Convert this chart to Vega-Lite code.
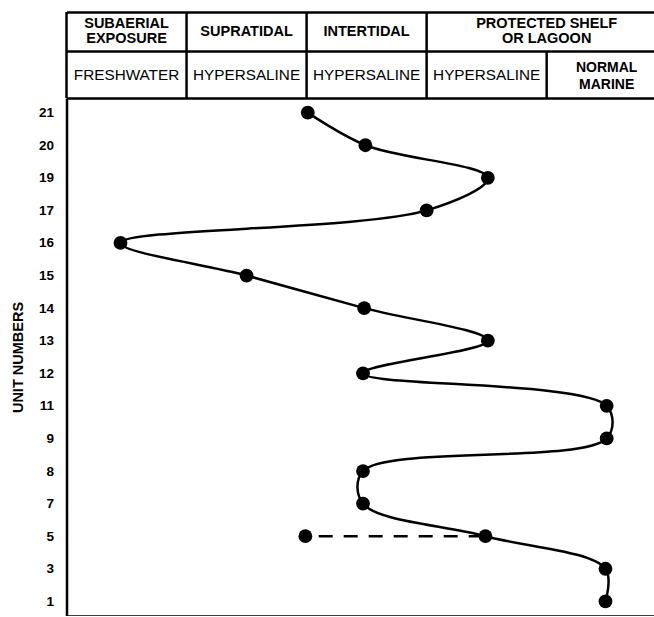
{
  "$schema": "https://vega.github.io/schema/vega-lite/v6.json",
  "padding": {"left": 9.5, "top": 10, "right": 0, "bottom": 0},
  "spacing": 0,
  "bounds": "flush",
  "config": {
    "view": {"stroke": null},
    "font": "Liberation Sans",
    "text": {"font": "Liberation Sans", "color": "black"},
    "axis": {
      "grid": false,
      "domainColor": "black",
      "domainWidth": 2.5,
      "ticks": false,
      "labelColor": "black",
      "titleColor": "black",
      "labelFont": "Liberation Sans",
      "titleFont": "Liberation Sans"
    }
  },
  "datasets": {
    "environments": [
      {"label": "SUBAERIAL\nEXPOSURE", "start": 0, "end": 1},
      {"label": "SUPRATIDAL", "start": 1, "end": 2},
      {"label": "INTERTIDAL", "start": 2, "end": 3},
      {"label": "PROTECTED SHELF\nOR LAGOON", "start": 3, "end": 5}
    ],
    "salinity": [
      {"label": "FRESHWATER", "start": 0, "end": 1},
      {"label": "HYPERSALINE", "start": 1, "end": 2},
      {"label": "HYPERSALINE", "start": 2, "end": 3},
      {"label": "HYPERSALINE", "start": 3, "end": 4},
      {"label": "NORMAL\nMARINE", "start": 4, "end": 5}
    ],
    "path": [
      {"unit": 21, "position": 2.01},
      {"unit": 20, "position": 2.49},
      {"unit": 19, "position": 3.51},
      {"unit": 17, "position": 3.0},
      {"unit": 16, "position": 0.45},
      {"unit": 15, "position": 1.5},
      {"unit": 14, "position": 2.48},
      {"unit": 13, "position": 3.51},
      {"unit": 12, "position": 2.47},
      {"unit": 11, "position": 4.5},
      {"unit": 9, "position": 4.5},
      {"unit": 8, "position": 2.47},
      {"unit": 7, "position": 2.47},
      {"unit": 5, "position": 3.49},
      {"unit": 3, "position": 4.49},
      {"unit": 1, "position": 4.49}
    ],
    "alternative": [
      {"unit": 5, "position": 1.99, "end": 3.49}
    ]
  },
  "vconcat": [
    {
      "width": 587,
      "height": 39,
      "data": {"name": "environments"},
      "transform": [{"calculate": "(datum.start + datum.end) / 2", "as": "mid"}],
      "layer": [
        {
          "mark": {"type": "rule", "color": "black", "strokeWidth": 2.5},
          "encoding": {
            "x": {"field": "start", "type": "quantitative", "scale": {"domain": [0, 4.89], "nice": false, "zero": false}, "axis": {"orient": "top", "labels": false, "title": null}}
          }
        },
        {
          "transform": [{"filter": "datum.start == 1 || datum.start == 2"}],
          "mark": {"type": "text", "fontWeight": "bold", "fontSize": 14.5},
          "encoding": {
            "x": {"field": "mid", "type": "quantitative", "axis": {"orient": "top", "labels": false, "title": null}},
            "text": {"field": "label"}
          }
        },
        {
          "transform": [{"filter": "datum.start == 0 || datum.start == 3"}],
          "mark": {"type": "text", "fontWeight": "bold", "fontSize": 14.5, "lineHeight": 15, "lineBreak": "\n", "dy": -7.5},
          "encoding": {
            "x": {"field": "mid", "type": "quantitative", "axis": {"orient": "top", "labels": false, "title": null}},
            "text": {"field": "label"}
          }
        }
      ]
    },
    {
      "width": 587,
      "height": 47,
      "data": {"name": "salinity"},
      "transform": [{"calculate": "(datum.start + datum.end) / 2", "as": "mid"}],
      "layer": [
        {
          "mark": {"type": "rule", "color": "black", "strokeWidth": 2.5},
          "encoding": {
            "x": {"field": "start", "type": "quantitative", "scale": {"domain": [0, 4.89], "nice": false, "zero": false}, "axis": {"orient": "top", "labels": false, "title": null}}
          }
        },
        {
          "transform": [{"filter": "datum.start < 4"}],
          "mark": {"type": "text", "fontSize": 15.3},
          "encoding": {
            "x": {"field": "mid", "type": "quantitative", "axis": {"orient": "top", "labels": false, "title": null}},
            "text": {"field": "label"}
          }
        },
        {
          "transform": [{"filter": "datum.start >= 4"}],
          "mark": {"type": "text", "fontSize": 14, "fontWeight": "bold", "lineHeight": 17, "lineBreak": "\n", "dy": -6.5},
          "encoding": {
            "x": {"field": "mid", "type": "quantitative", "axis": {"orient": "top", "labels": false, "title": null}},
            "text": {"field": "label"}
          }
        }
      ]
    },
    {
      "width": 587,
      "height": 518,
      "layer": [
        {
          "data": {"name": "path"},
          "mark": {"type": "line", "interpolate": "catmull-rom", "color": "black", "strokeWidth": 2.5},
          "encoding": {
            "x": {"field": "position", "type": "quantitative", "scale": {"domain": [0, 4.89], "nice": false, "zero": false}, "axis": {"orient": "top", "labels": false, "title": null}},
            "y": {
              "field": "unit",
              "type": "ordinal",
              "scale": {"type": "point", "domain": [21, 20, 19, 17, 16, 15, 14, 13, 12, 11, 9, 8, 7, 5, 3, 1], "padding": 0.45},
              "axis": {"title": "UNIT NUMBERS", "titleFontSize": 14.5, "titleFontWeight": "bold", "titlePadding": 13, "labelFontSize": 13.5, "labelFontWeight": "bold", "labelPadding": 13}
            },
            "order": {"field": "unit", "type": "quantitative"}
          }
        },
        {
          "data": {"name": "alternative"},
          "mark": {"type": "rule", "color": "black", "strokeWidth": 2.5, "strokeDash": [14, 11], "strokeDashOffset": 11.7},
          "encoding": {
            "x": {"field": "position", "type": "quantitative", "axis": {"orient": "bottom", "labels": false, "title": null}},
            "x2": {"field": "end"},
            "y": {"field": "unit", "type": "ordinal"}
          }
        },
        {
          "data": {"name": "path"},
          "mark": {"type": "circle", "color": "black", "opacity": 1, "size": 190},
          "encoding": {
            "x": {"field": "position", "type": "quantitative", "axis": null},
            "y": {"field": "unit", "type": "ordinal"}
          }
        },
        {
          "data": {"name": "alternative"},
          "mark": {"type": "circle", "color": "black", "opacity": 1, "size": 190},
          "encoding": {
            "x": {"field": "position", "type": "quantitative", "axis": null},
            "y": {"field": "unit", "type": "ordinal"}
          }
        }
      ],
      "resolve": {"axis": {"x": "independent"}}
    }
  ]
}
